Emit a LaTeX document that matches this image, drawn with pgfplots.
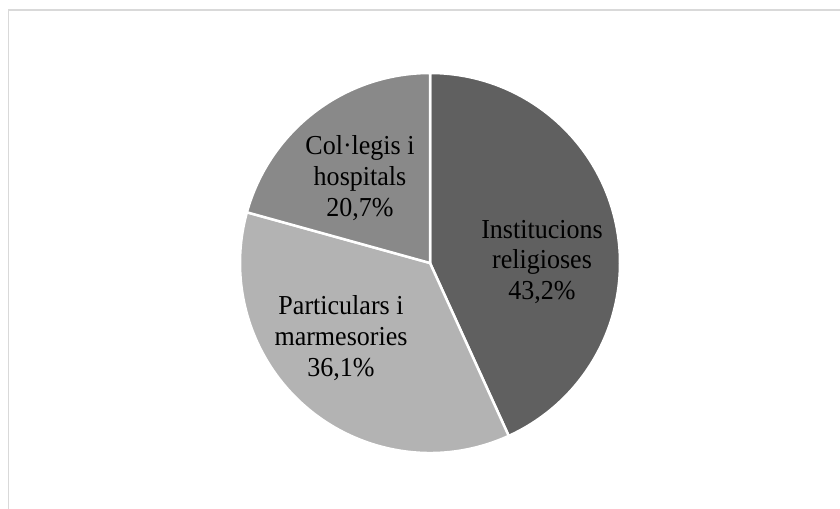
\documentclass[border=0pt]{standalone}
\usepackage{pgfplots}
\usepackage{pgfplotstable}
\pgfplotsset{compat=1.18}
\usepackage{fontspec}
\setmainfont{Liberation Serif}[FakeStretch=0.95]

\definecolor{sliceA}{RGB}{96,96,96}
\definecolor{sliceB}{RGB}{179,179,179}
\definecolor{sliceC}{RGB}{137,137,137}
\definecolor{frame}{RGB}{217,217,217}

% shares in percent, clockwise from 12 o'clock
\pgfplotstableread{
share
43.2
36.1
20.7
}\piedata

\begin{document}
\begin{tikzpicture}
\pgfplotstablegetelem{0}{share}\of\piedata \let\sA\pgfplotsretval
\pgfplotstablegetelem{1}{share}\of\piedata \let\sB\pgfplotsretval
\pgfplotstablegetelem{2}{share}\of\piedata \let\sC\pgfplotsretval
\pgfmathsetmacro\aZ{90}
\pgfmathsetmacro\aA{\aZ-3.6*\sA}
\pgfmathsetmacro\aB{\aA-3.6*\sB}
\pgfmathsetmacro\aC{\aB-3.6*\sC}
\useasboundingbox (0,0) rectangle (840bp,509bp);
\begin{axis}[
    x=1bp, y=1bp,
    xmin=0, xmax=840, ymin=0, ymax=509,
    hide axis, clip=true,
    anchor=origin, at={(0,0)},
]
% frame
\draw[frame, line width=1.5bp] (axis cs:8.5,-30) -- (axis cs:8.5,499) -- (axis cs:870,499);
% wedges
\def\ctr{axis cs:430,246}
\fill[sliceA, draw=white, line width=2.5bp, line join=round]
  (\ctr) -- ([shift={(\aZ:190bp)}]\ctr) arc[start angle=\aZ, end angle=\aA, radius=190bp] -- cycle;
\fill[sliceB, draw=white, line width=2.5bp, line join=round]
  (\ctr) -- ([shift={(\aA:190bp)}]\ctr) arc[start angle=\aA, end angle=\aB, radius=190bp] -- cycle;
\fill[sliceC, draw=white, line width=2.5bp, line join=round]
  (\ctr) -- ([shift={(\aB:190bp)}]\ctr) arc[start angle=\aB, end angle=\aC, radius=190bp] -- cycle;
% labels
\begin{scope}[every node/.style={align=center, font=\fontsize{27.5}{31}\selectfont, inner sep=0pt}]
\node at (axis cs:542,247) {Institucions\\religioses\\43,2\%};
\node at (axis cs:341,171) {Particulars i\\marmesories\\36,1\%};
\node at (axis cs:360,331) {Col·legis i\\hospitals\\20,7\%};
\end{scope}
\end{axis}
\end{tikzpicture}
\end{document}
